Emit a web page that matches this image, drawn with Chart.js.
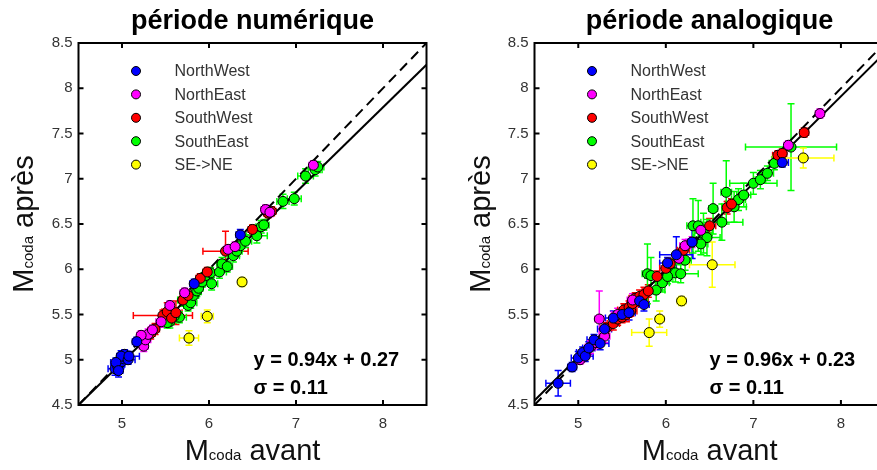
<!DOCTYPE html>
<html>
<head>
<meta charset="utf-8">
<script src="https://cdn.jsdelivr.net/npm/chart.js@4.4.1/dist/chart.umd.min.js"></script>
<style>
  html, body { margin: 0; padding: 0; background: #fff; overflow: hidden; }
  body { width: 877px; height: 470px; position: relative; }
  canvas { position: absolute; top: 0; }
</style>
</head>
<body>
<canvas id="chartNum" width="440" height="470" style="left:0"></canvas>
<canvas id="chartAna" width="460" height="470" style="left:440px"></canvas>
<script>
// [M avant, M après, err avant, err après]
const numNorthWest = [
  [4.92, 4.90, 0.08, 0.07], [4.95, 4.93, 0.07, 0.06], [4.97, 4.96, 0.06, 0.08], [5.00, 4.98, 0.08, 0.06],
  [5.02, 5.01, 0.06, 0.05], [5.04, 5.03, 0.07, 0.06], [5.03, 5.06, 0.06, 0.05], [4.99, 5.04, 0.05, 0.06],
  [5.07, 5.00, 0.08, 0.05], [4.93, 4.97, 0.06, 0.05], [5.08, 5.04, 0.12, 0.05], [4.96, 4.88, 0.05, 0.07],
  [5.17, 5.20, 0.05, 0.05], [6.36, 6.38, 0.05, 0.06], [5.83, 5.84, 0.05, 0.05]
];
const numNorthEast = [
  [5.25, 5.15, 0.05, 0.06], [5.27, 5.22, 0.06, 0.05], [5.30, 5.28, 0.05, 0.06], [5.35, 5.33, 0.05, 0.05],
  [5.45, 5.42, 0.06, 0.06], [5.55, 5.60, 0.05, 0.05], [5.72, 5.74, 0.05, 0.05], [6.22, 6.22, 0.05, 0.05],
  [6.65, 6.66, 0.05, 0.05], [6.70, 6.63, 0.05, 0.05], [7.20, 7.15, 0.05, 0.05], [5.22, 5.27, 0.05, 0.05],
  [6.30, 6.25, 0.04, 0.05]
];
const numSouthWest = [
  [5.33, 5.29, 0.05, 0.06], [5.38, 5.34, 0.05, 0.06], [5.47, 5.49, 0.34, 0.06], [5.52, 5.53, 0.06, 0.10],
  [5.57, 5.46, 0.05, 0.05], [5.62, 5.52, 0.07, 0.13], [5.70, 5.66, 0.05, 0.05], [5.76, 5.71, 0.05, 0.05],
  [5.90, 5.90, 0.05, 0.05], [6.19, 6.20, 0.26, 0.22], [6.50, 6.44, 0.05, 0.05], [6.68, 6.62, 0.05, 0.05],
  [6.72, 6.64, 0.05, 0.05], [5.98, 5.97, 0.05, 0.05]
];
const numSouthEast = [
  [5.50, 5.45, 0.06, 0.06], [5.55, 5.42, 0.05, 0.07], [5.66, 5.47, 0.08, 0.06], [5.70, 5.66, 0.06, 0.07],
  [5.76, 5.60, 0.05, 0.06], [5.79, 5.63, 0.07, 0.06], [5.82, 5.71, 0.06, 0.07], [5.86, 5.76, 0.05, 0.06],
  [5.88, 5.79, 0.05, 0.07], [5.92, 5.86, 0.06, 0.06], [5.96, 5.93, 0.05, 0.06], [6.03, 5.84, 0.07, 0.07],
  [6.02, 5.96, 0.06, 0.06], [6.12, 5.97, 0.08, 0.07], [6.15, 6.06, 0.06, 0.07], [6.21, 6.03, 0.06, 0.06],
  [6.28, 6.15, 0.07, 0.07], [6.32, 6.20, 0.06, 0.06], [6.36, 6.26, 0.05, 0.06], [6.55, 6.37, 0.12, 0.08],
  [6.60, 6.47, 0.06, 0.07], [6.63, 6.49, 0.06, 0.06], [6.85, 6.75, 0.07, 0.08], [6.98, 6.78, 0.08, 0.07],
  [7.11, 7.03, 0.09, 0.08], [7.22, 7.10, 0.08, 0.07], [7.25, 7.13, 0.07, 0.06], [5.60, 5.48, 0.05, 0.06],
  [5.52, 5.41, 0.05, 0.06], [6.42, 6.31, 0.07, 0.07]
];
const numSENE = [[5.77, 5.24, 0.11, 0.08], [5.98, 5.48, 0.07, 0.07], [6.38, 5.86, 0.05, 0.05]];

const anaNorthWest = [
  [4.77, 4.74, 0.14, 0.14], [4.93, 4.92, 0.05, 0.05], [5.00, 5.02, 0.08, 0.07], [5.05, 5.08, 0.07, 0.06],
  [5.08, 5.04, 0.09, 0.06], [5.12, 5.13, 0.07, 0.07], [5.18, 5.22, 0.08, 0.06], [5.30, 5.34, 0.08, 0.07],
  [5.40, 5.46, 0.09, 0.08], [5.50, 5.50, 0.08, 0.07], [5.58, 5.52, 0.07, 0.08], [5.70, 5.65, 0.08, 0.06],
  [5.75, 5.61, 0.06, 0.07], [6.02, 6.07, 0.09, 0.06], [6.12, 6.16, 0.19, 0.20], [6.30, 6.30, 0.05, 0.18],
  [7.33, 7.18, 0.07, 0.05], [5.25, 5.18, 0.10, 0.07]
];
const anaNorthEast = [
  [5.24, 5.45, 0.05, 0.31], [5.08, 5.07, 0.06, 0.06], [5.14, 5.14, 0.06, 0.07], [5.20, 5.19, 0.07, 0.06],
  [5.30, 5.26, 0.06, 0.07], [5.45, 5.50, 0.07, 0.07], [5.62, 5.66, 0.06, 0.07], [6.15, 6.12, 0.06, 0.06],
  [6.22, 6.26, 0.06, 0.07], [6.30, 6.30, 0.07, 0.06], [6.40, 6.43, 0.06, 0.07], [7.40, 7.37, 0.05, 0.05],
  [7.76, 7.72, 0.05, 0.05], [5.02, 5.00, 0.05, 0.05]
];
const anaSouthWest = [
  [5.32, 5.35, 0.06, 0.06], [5.40, 5.40, 0.07, 0.07], [5.45, 5.45, 0.06, 0.07], [5.50, 5.47, 0.08, 0.06],
  [5.52, 5.55, 0.07, 0.07], [5.55, 5.50, 0.06, 0.08], [5.58, 5.58, 0.08, 0.07], [5.60, 5.54, 0.07, 0.06],
  [5.62, 5.62, 0.06, 0.07], [5.65, 5.68, 0.07, 0.06], [5.70, 5.70, 0.06, 0.07], [5.72, 5.65, 0.08, 0.06],
  [5.75, 5.72, 0.06, 0.08], [5.80, 5.76, 0.07, 0.07], [5.90, 5.92, 0.06, 0.06], [6.00, 6.01, 0.07, 0.07],
  [6.05, 6.06, 0.06, 0.06], [6.20, 6.21, 0.07, 0.07], [6.50, 6.48, 0.07, 0.08], [6.70, 6.68, 0.06, 0.07],
  [6.75, 6.72, 0.07, 0.06], [7.28, 7.26, 0.06, 0.05], [7.33, 7.28, 0.05, 0.05], [7.58, 7.51, 0.05, 0.05]
];
const anaSouthEast = [
  [5.79, 5.95, 0.06, 0.33], [5.83, 5.93, 0.07, 0.20], [5.89, 5.77, 0.10, 0.12], [5.96, 5.85, 0.08, 0.10],
  [6.05, 5.99, 0.06, 0.12], [6.11, 5.96, 0.08, 0.10], [6.17, 5.95, 0.20, 0.10], [6.22, 6.10, 0.07, 0.11],
  [6.31, 6.48, 0.07, 0.30], [6.37, 6.48, 0.06, 0.28], [6.43, 6.40, 0.10, 0.22], [6.47, 6.35, 0.15, 0.20],
  [6.54, 6.67, 0.05, 0.28], [6.69, 6.85, 0.06, 0.35], [6.78, 6.69, 0.14, 0.17], [6.83, 6.77, 0.08, 0.12],
  [6.89, 6.82, 0.08, 0.13], [7.00, 6.95, 0.27, 0.12], [7.08, 6.99, 0.06, 0.10], [7.16, 7.06, 0.07, 0.08],
  [7.24, 7.17, 0.06, 0.07], [7.43, 7.35, 0.52, 0.48], [6.64, 6.52, 0.24, 0.20], [6.40, 6.28, 0.08, 0.12],
  [6.02, 5.92, 0.06, 0.08]
];
const anaSENE = [[5.81, 5.30, 0.20, 0.15], [5.93, 5.45, 0.05, 0.09], [6.18, 5.65, 0.05, 0.05], [6.53, 6.05, 0.26, 0.25], [7.57, 7.23, 0.35, 0.11]];

const regionNames = ["NorthWest", "NorthEast", "SouthWest", "SouthEast", "SE->NE"];
const regionColors = ["#0000ff", "#ff00ff", "#ff0000", "#00ff00", "#ffff00"];
const fitNum = [0.94, 0.27];   // pente, ordonnée
const fitAna = [0.96, 0.23];
const sigmaNum = 0.11;
const sigmaAna = 0.11;
const axisMin = 4.5, axisMax = 8.5;
const xTickValues = [5, 6, 7, 8];
const yTickValues = [4.5, 5, 5.5, 6, 6.5, 7, 7.5, 8, 8.5];

Chart.defaults.font.family = "'Liberation Sans', Arial, sans-serif";

function buildDatasets(series, fit) {
  const sets = series.map((pts, i) => ({
    type: "scatter",
    label: regionNames[i],
    data: pts.map(p => ({ x: p[0], y: p[1] })),
    errs: pts,
    backgroundColor: regionColors[i],
    borderColor: "#000",
    borderWidth: 1,
    pointRadius: 5,
    pointHoverRadius: 5,
    order: 1,
  }));
  sets.push({
    type: "line",
    label: "fit",
    data: [axisMin, axisMax].map(v => ({ x: v, y: fit[0] * v + fit[1] })),
    borderColor: "#000", borderWidth: 2, pointRadius: 0, fill: false, order: 5,
  });
  sets.push({
    type: "line",
    label: "1:1",
    data: [axisMin, axisMax].map(v => ({ x: v, y: v })),
    borderColor: "#000", borderWidth: 2, borderDash: [10, 6], pointRadius: 0, fill: false, order: 5,
  });
  return sets;
}

function drawLabel(ctx, parts, x, y, align) {
  // parts: [text, size] drawn on one baseline
  const widths = parts.map(([t, s]) => { ctx.font = s + "px 'Liberation Sans', Arial, sans-serif"; return ctx.measureText(t).width; });
  const total = widths.reduce((a, b) => a + b, 0);
  let cx = align === "center" ? x - total / 2 : x;
  parts.forEach(([t, s], i) => {
    ctx.font = s + "px 'Liberation Sans', Arial, sans-serif";
    ctx.fillText(t, cx, y);
    cx += widths[i];
  });
}

const panelPlugin = {
  id: "panel",
  beforeDatasetsDraw(chart) {
    const { ctx, chartArea: a, scales: { x, y } } = chart;
    ctx.save();
    ctx.beginPath();
    ctx.rect(a.left, a.top, a.right - a.left, a.bottom - a.top);
    ctx.clip();
    ctx.lineWidth = 1.5;
    chart.data.datasets.forEach(ds => {
      if (!ds.errs) return;
      ctx.strokeStyle = ds.backgroundColor;
      ds.errs.forEach(([vx, vy, ex, ey]) => {
        const px = x.getPixelForValue(vx), py = y.getPixelForValue(vy);
        const x0 = x.getPixelForValue(vx - ex), x1 = x.getPixelForValue(vx + ex);
        const y0 = y.getPixelForValue(vy - ey), y1 = y.getPixelForValue(vy + ey);
        ctx.beginPath();
        ctx.moveTo(x0, py); ctx.lineTo(x1, py);
        ctx.moveTo(x0, py - 3.5); ctx.lineTo(x0, py + 3.5);
        ctx.moveTo(x1, py - 3.5); ctx.lineTo(x1, py + 3.5);
        ctx.moveTo(px, y0); ctx.lineTo(px, y1);
        ctx.moveTo(px - 3.5, y0); ctx.lineTo(px + 3.5, y0);
        ctx.moveTo(px - 3.5, y1); ctx.lineTo(px + 3.5, y1);
        ctx.stroke();
      });
    });
    ctx.restore();
  },
  afterDraw(chart, args, opts) {
    const { ctx, chartArea: a, scales: { x, y } } = chart;
    ctx.save();
    // box + inward ticks
    ctx.strokeStyle = "#000";
    ctx.lineWidth = 2;
    ctx.strokeRect(a.left, a.top, a.right - a.left, a.bottom - a.top);
    ctx.beginPath();
    x.ticks.forEach(t => {
      const px = x.getPixelForValue(t.value);
      ctx.moveTo(px, a.bottom); ctx.lineTo(px, a.bottom - 5);
      ctx.moveTo(px, a.top); ctx.lineTo(px, a.top + 5);
    });
    y.ticks.forEach(t => {
      const py = y.getPixelForValue(t.value);
      ctx.moveTo(a.left, py); ctx.lineTo(a.left + 5, py);
      ctx.moveTo(a.right, py); ctx.lineTo(a.right - 5, py);
    });
    ctx.stroke();

    const cx = (a.left + a.right) / 2;
    // title
    ctx.fillStyle = "#000";
    ctx.textAlign = "center";
    ctx.textBaseline = "alphabetic";
    ctx.font = "bold 27px 'Liberation Sans', Arial, sans-serif";
    ctx.fillText(opts.title, cx, 29);

    // axis titles
    ctx.fillStyle = "#111";
    ctx.textAlign = "left";
    drawLabel(ctx, [["M", 29], ["coda", 15], [" avant", 29]], cx, 460, "center");
    ctx.save();
    ctx.translate(a.left - opts.yTitleGap, (a.top + a.bottom) / 2);
    ctx.rotate(-Math.PI / 2);
    drawLabel(ctx, [["M", 29], ["coda", 15], [" après", 29]], 0, 0, "center");
    ctx.restore();

    // legend
    ctx.textBaseline = "middle";
    ctx.font = "16px 'Liberation Sans', Arial, sans-serif";
    regionNames.forEach((name, i) => {
      const ly = a.top + 28 + i * 23.4;
      ctx.beginPath();
      ctx.arc(a.left + 57.5, ly, 4.5, 0, Math.PI * 2);
      ctx.fillStyle = regionColors[i];
      ctx.fill();
      ctx.lineWidth = 1;
      ctx.strokeStyle = "#000";
      ctx.stroke();
      ctx.fillStyle = "#333";
      ctx.fillText(name, a.left + 96, ly + 1);
    });

    // equation
    ctx.fillStyle = "#000";
    ctx.textBaseline = "alphabetic";
    ctx.font = "bold 20px 'Liberation Sans', Arial, sans-serif";
    ctx.fillText("y = " + opts.fit[0].toFixed(2) + "x + " + opts.fit[1].toFixed(2), a.left + 175, 366);
    ctx.fillText("σ = " + opts.sigma.toFixed(2), a.left + 175, 394);
    ctx.restore();
  }
};

function makeChart(id, series, fit, sigma, title, yAxisWidth, padRight, yTitleGap) {
  const ctx = document.getElementById(id).getContext("2d");
  return new Chart(ctx, {
    type: "scatter",
    data: { datasets: buildDatasets(series, fit) },
    plugins: [panelPlugin],
    options: {
      responsive: false,
      animation: false,
      devicePixelRatio: 1,
      layout: { padding: { top: 43, bottom: 0, left: 0, right: padRight } },
      plugins: {
        legend: { display: false },
        tooltip: { enabled: false },
        panel: { title: title, fit: fit, sigma: sigma, yTitleGap: yTitleGap },
      },
      scales: {
        x: {
          type: "linear",
          min: axisMin, max: axisMax,
          afterBuildTicks: s => { s.ticks = xTickValues.map(v => ({ value: v })); },
          afterFit: s => { s.height = 65; },
          grid: { display: false, drawTicks: false },
          border: { display: false },
          ticks: { padding: 10, color: "#333", font: { size: 15 }, maxRotation: 0, callback: v => String(v) },
        },
        y: {
          type: "linear",
          min: axisMin, max: axisMax,
          afterBuildTicks: s => { s.ticks = yTickValues.map(v => ({ value: v })); },
          afterFit: s => { s.width = yAxisWidth; },
          grid: { display: false, drawTicks: false },
          border: { display: false },
          ticks: { padding: 6, color: "#333", font: { size: 15 }, callback: v => String(v) },
        },
      },
    },
  });
}

document.addEventListener("DOMContentLoaded", () => {
  makeChart("chartNum", [numNorthWest, numNorthEast, numSouthWest, numSouthEast, numSENE],
    fitNum, sigmaNum, "période numérique", 78.5, 13.5, 45.5);
  makeChart("chartAna", [anaNorthWest, anaNorthEast, anaSouthWest, anaSouthEast, anaSENE],
    fitAna, sigmaAna, "période analogique", 94.5, 15.3, 44.5);
});
</script>
</body>
</html>
